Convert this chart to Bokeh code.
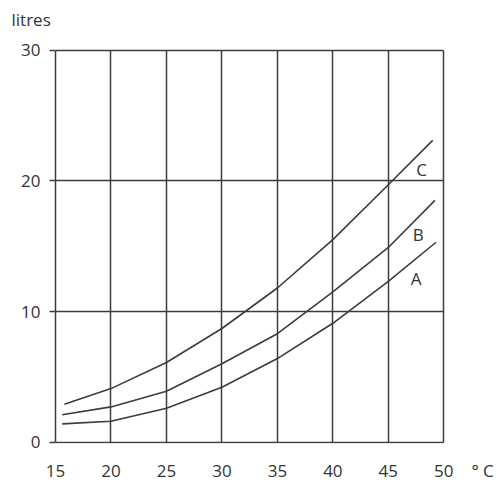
from bokeh.plotting import figure
from bokeh.models import Range1d, FixedTicker, Grid
from bokeh.core.properties import value
from bokeh.embed import file_html
from bokeh.resources import INLINE

# Data (temperature in °C, volume in litres)
temp_A = [15.6, 20, 25, 30, 35, 40, 45, 49.3]
litres_A = [1.4, 1.6, 2.6, 4.2, 6.4, 9.1, 12.3, 15.3]
temp_B = [15.6, 20, 25, 30, 35, 40, 45, 49.2]
litres_B = [2.1, 2.7, 3.9, 6.0, 8.3, 11.5, 14.9, 18.5]
temp_C = [15.8, 20, 25, 30, 35, 40, 45, 49.0]
litres_C = [2.9, 4.1, 6.1, 8.7, 11.8, 15.5, 19.7, 23.1]

curve_names = ["A", "B", "C"]
curve_label_x = [47.5, 47.7, 48.0]
curve_label_y = [12.5, 15.9, 20.9]

x_ticks = [15, 20, 25, 30, 35, 40, 45, 50]
y_ticks = [0, 10, 20, 30]
x_unit_tick = 53.5          # where the unit text sits on the x axis
x_unit_label = "° C"
y_title = "litres"

INK = "#3c3c3c"
TXT = "#333333"
FONT = "Open Sans"

p = figure(width=497, height=484, output_backend="svg", toolbar_location=None,
           x_range=Range1d(15, 54.48), y_range=Range1d(-0.1, 31.12),
           min_border_left=55, min_border_right=4, min_border_top=35,
           min_border_bottom=31)
p.background_fill_color = "white"
p.border_fill_color = "white"
p.outline_line_color = None

# title "litres"
p.title.text = y_title
p.title.align = "left"
p.title.offset = -44
p.title.standoff = 10
p.title.text_font = FONT
p.title.text_font_size = "17px"
p.title.text_font_style = "normal"
p.title.text_color = TXT

# axes
p.xaxis.ticker = FixedTicker(ticks=x_ticks + [x_unit_tick])
p.xaxis.major_label_overrides = {x_unit_tick: x_unit_label}
p.yaxis.ticker = FixedTicker(ticks=y_ticks)
for ax in (p.xaxis, p.yaxis):
    ax.major_label_text_font = FONT
    ax.major_label_text_font_size = "17px"
    ax.major_label_text_color = TXT
    ax.minor_tick_line_color = None
p.xaxis.axis_line_color = None
p.xaxis.major_tick_line_color = None
p.xaxis.major_label_standoff = 9
p.yaxis.axis_line_color = INK
p.yaxis.axis_line_width = 1.5
p.yaxis.bounds = (y_ticks[0], y_ticks[-1])
p.yaxis.major_tick_line_color = INK
p.yaxis.major_tick_line_width = 1.5
p.yaxis.major_tick_out = 6
p.yaxis.major_tick_in = 0
p.yaxis.major_label_standoff = 9

# grid
p.xgrid.ticker = FixedTicker(ticks=x_ticks)
p.ygrid.ticker = FixedTicker(ticks=y_ticks)
for g in (p.xgrid, p.ygrid):
    g.grid_line_color = INK
    g.grid_line_width = 1.5
    g.grid_line_alpha = 1.0
if "cross_bounds" in Grid.properties():
    p.ygrid.cross_bounds = (x_ticks[0], x_ticks[-1])
    p.xgrid.cross_bounds = (y_ticks[0], y_ticks[-1])
else:
    p.ygrid.visible = False
    p.segment(x0=[x_ticks[0]] * len(y_ticks), x1=[x_ticks[-1]] * len(y_ticks),
              y0=y_ticks, y1=y_ticks, line_color=INK, line_width=1.5)

for xs, ys in ((temp_A, litres_A), (temp_B, litres_B), (temp_C, litres_C)):
    p.line(xs, ys, line_color=INK, line_width=1.6)

p.text(x=curve_label_x, y=curve_label_y, text=curve_names,
       text_font=value(FONT), text_font_size="17px", text_color=TXT,
       text_align="center", text_baseline="middle")

open("out.html", "w").write(file_html(p, INLINE))
